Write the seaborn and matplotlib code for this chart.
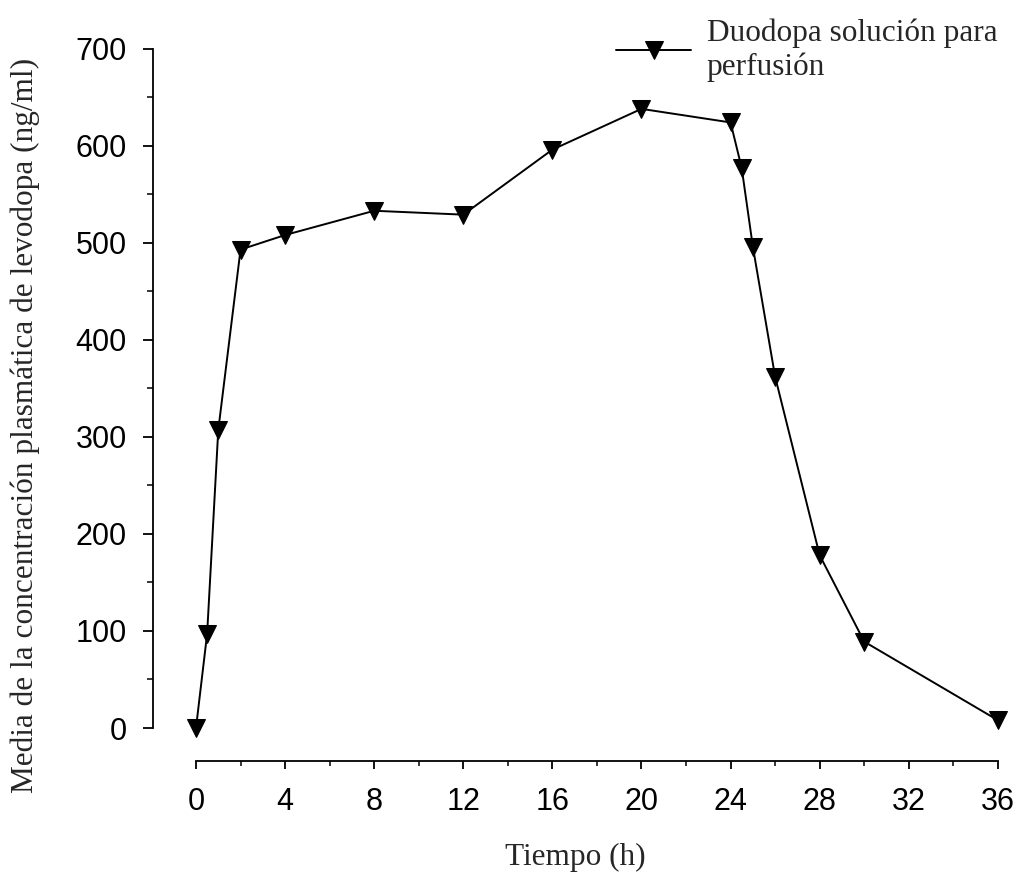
#!/usr/bin/env python3
"""
Mean plasma levodopa concentration during Duodopa infusion.
"""
import matplotlib
matplotlib.use('Agg')
import matplotlib.pyplot as plt
from matplotlib.ticker import MultipleLocator
import seaborn as sns
import pandas as pd

# Data
time_h = [0, 0.5, 1, 2, 4, 8, 12, 16, 20, 24, 24.5, 25, 26, 28, 30, 36]
levodopa_ng_ml = [0, 97, 307, 493, 508, 533, 529, 596, 638, 624, 577, 496, 362, 178, 89, 8]
series_label = 'Duodopa solución para\nperfusión'
x_ticks = [0, 4, 8, 12, 16, 20, 24, 28, 32, 36]
y_ticks = [0, 100, 200, 300, 400, 500, 600, 700]

sns.set_style('ticks')
serif = ['Liberation Serif', 'DejaVu Serif']
sans = ['Liberation Sans', 'DejaVu Sans']
plt.rcParams['font.family'] = sans

df = pd.DataFrame({'time': time_h, 'conc': levodopa_ng_ml})

fig = plt.figure(figsize=(10.19, 8.85), dpi=100)
ax = fig.add_axes([153 / 1019, 124 / 885, 856 / 1019, 722 / 885])

sns.lineplot(data=df, x='time', y='conc', ax=ax, color='black', linewidth=1.4,
             marker='v', markersize=13, markeredgecolor='black',
             label=series_label)

ax.set_xlim(-1.93, 36.5)
ax.set_ylim(-34, 710)
ax.set_xticks(x_ticks)
ax.set_yticks(y_ticks)
ax.xaxis.set_minor_locator(MultipleLocator(2))
ax.yaxis.set_minor_locator(MultipleLocator(50))

for side in ['top', 'right']:
    ax.spines[side].set_visible(False)
ax.spines['bottom'].set_bounds(0, 36)
ax.spines['left'].set_bounds(0, 700)
for side in ['bottom', 'left']:
    ax.spines[side].set_linewidth(1.3)
    ax.spines[side].set_color('black')

ax.tick_params(axis='x', which='major', length=6, width=1.3, pad=13, labelsize=22, colors='black')
ax.tick_params(axis='x', which='minor', length=3.5, width=1.3)
ax.tick_params(axis='y', which='major', length=7, width=1.3, pad=12, labelsize=22, colors='black')
ax.tick_params(axis='y', which='minor', length=4, width=1.3)

ax.set_xlabel('Tiempo (h)', family=serif, fontsize=22.5)
ax.set_ylabel('Media de la concentración plasmática de levodopa (ng/ml)', family=serif, fontsize=22.5)
ax.xaxis.set_label_coords(0.493, -0.1136)
ax.yaxis.set_label_coords(-0.132, 0.465)

leg = ax.legend(loc='upper left', bbox_to_anchor=(588 / 1019, 1 + 10 / 885),
                bbox_transform=fig.transFigure, frameon=False,
                handlelength=2.4, handletextpad=0.5, markerscale=1.0,
                prop={'family': serif, 'size': 22.5})

plt.savefig('out.png', dpi=100)
